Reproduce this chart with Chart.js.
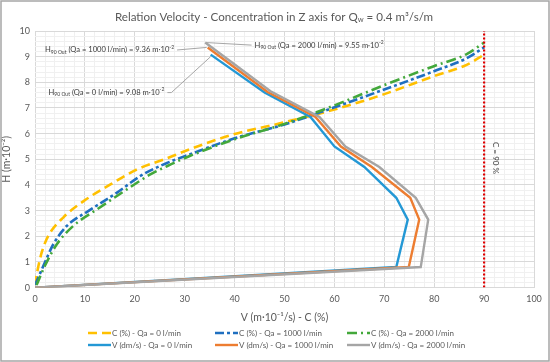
<!DOCTYPE html>
<html>
<head>
<meta charset="utf-8">
<script src="https://cdn.jsdelivr.net/npm/chart.js@4"></script>
<style>
  html, body { margin: 0; padding: 0; background: #fff; }
  #wrap { width: 550px; height: 362px; }
</style>
</head>
<body>
<div id="wrap"><canvas id="chart" width="550" height="362"></canvas></div>
<script>
// concentration curves C (%) vs height H (m·10^-2)
const cQa0_x    = [0, 0.5, 1.35, 2.7, 5.7, 9.8, 15.2, 20.5, 25.9, 31.0, 39.4, 49.5, 60.0, 69.7, 79.8, 86.5, 90];
const cQa0_h    = [0.1, 0.67, 1.38, 2.03, 2.74, 3.38, 4.03, 4.61, 5.00, 5.39, 5.95, 6.42, 6.94, 7.52, 8.23, 8.68, 9.08];
const cQa1000_x = [0, 1.7, 3.7, 6.4, 10.8, 16.5, 21.2, 26.6, 31.0, 40.0, 50.0, 59.6, 69.7, 79.8, 86.5, 90];
const cQa1000_h = [0.1, 0.86, 1.70, 2.41, 3.00, 3.71, 4.36, 4.87, 5.19, 5.82, 6.36, 7.00, 7.70, 8.42, 8.94, 9.36];
const cQa2000_x = [0.3, 2.0, 4.4, 7.7, 12.5, 18.5, 23.2, 27.3, 31.0, 40.0, 50.0, 59.6, 69.7, 79.8, 86.5, 90];
const cQa2000_h = [0.1, 0.86, 1.70, 2.41, 3.06, 3.84, 4.42, 4.81, 5.13, 5.78, 6.38, 7.07, 7.87, 8.62, 9.10, 9.55];

// velocity profiles V (dm/s) vs height
const vQa0_x    = [0, 72.4, 74.7, 72.4, 66.0, 60.0, 55.2, 46.0, 35.2];
const vQa0_h    = [0, 0.80, 2.65, 3.50, 4.70, 5.50, 6.65, 7.60, 9.08];
const vQa1000_x = [0, 74.9, 77.0, 75.2, 67.5, 61.3, 56.2, 46.6, 34.6];
const vQa1000_h = [0, 0.80, 2.65, 3.50, 4.70, 5.50, 6.65, 7.62, 9.36];
const vQa2000_x = [0, 77.3, 78.8, 76.3, 69.0, 62.2, 57.0, 47.2, 34.1];
const vQa2000_h = [0, 0.80, 2.65, 3.50, 4.70, 5.50, 6.65, 7.65, 9.55];

// C = 90 % limit
const c90_x = [90, 90];
const c90_h = [0, 10];

const seriesLabels = [
  'C (%) - Qa = 0 l/min', 'C (%) - Qa = 1000 l/min', 'C (%) - Qa = 2000 l/min',
  'V (dm/s) - Qa = 0 l/min', 'V (dm/s) - Qa = 1000 l/min', 'V (dm/s) - Qa = 2000 l/min'
];

// H90 out annotations: [Qa, value]
const h90Notes = [
  ['1000', '9.36'],
  ['0', '9.08'],
  ['2000', '9.55']
];

function pts(xs, hs) {
  return xs.map((x, i) => ({ x: x, y: hs[i] }));
}

const FONT = 'Lato, "Liberation Sans", sans-serif';
const GREY_TXT = '#595959';

function isMult(v, m) {
  const r = v / m;
  return Math.abs(r - Math.round(r)) < 1e-6;
}

// draws a run of text parts, some of them sub/superscript
function drawRich(ctx, parts, x, y) {
  let cx = x;
  parts.forEach(p => {
    ctx.font = 'normal ' + p.s + 'px ' + FONT;
    ctx.fillText(p.t, cx, y + (p.dy || 0));
    cx += ctx.measureText(p.t).width;
  });
  return cx;
}

function h90Parts(qa, val) {
  return [
    { t: 'H', s: 7.6 },
    { t: '90 Out', s: 5, dy: 2 },
    { t: ' (Qa = ' + qa + ' l/min) = ' + val + ' m\u00b710', s: 7.6 },
    { t: '-2', s: 5, dy: -3 }
  ];
}

const decorPlugin = {
  id: 'decor',
  beforeDraw(chart) {
    const ctx = chart.ctx;
    ctx.save();
    ctx.fillStyle = '#fff';
    ctx.fillRect(0, 0, chart.width, chart.height);
    ctx.restore();
  },
  afterDraw(chart) {
    const ctx = chart.ctx;
    const xs = chart.scales.x, ys = chart.scales.y;
    ctx.save();
    ctx.fillStyle = GREY_TXT;
    ctx.textBaseline = 'middle';

    // title with subscript
    const tParts = [
      { t: 'Relation Velocity - Concentration in Z axis for Q', s: 11.6 },
      { t: 'w', s: 7.5, dy: 3 },
      { t: ' = 0.4 m\u00b3/s/m', s: 11.6 }
    ];
    let w = 0;
    tParts.forEach(p => { ctx.font = 'normal ' + p.s + 'px ' + FONT; w += ctx.measureText(p.t).width; });
    drawRich(ctx, tParts, 274 - w / 2, 17);

    // H90 annotations with leader lines
    ctx.fillStyle = '#404040';
    const tops = [
      [vQa1000_x[vQa1000_x.length - 1], vQa1000_h[vQa1000_h.length - 1]],
      [vQa0_x[vQa0_x.length - 1], vQa0_h[vQa0_h.length - 1]],
      [vQa2000_x[vQa2000_x.length - 1], vQa2000_h[vQa2000_h.length - 1]]
    ];
    const textPos = [[2.0, 9.26], [2.7, 7.6], [44.0, 9.45]];
    ctx.strokeStyle = '#a6a6a6';
    ctx.lineWidth = 1;
    h90Notes.forEach((n, i) => {
      const tx = xs.getPixelForValue(textPos[i][0]);
      const ty = ys.getPixelForValue(textPos[i][1]);
      const endX = drawRich(ctx, h90Parts(n[0], n[1]), tx, ty);
      const ax = xs.getPixelForValue(tops[i][0]);
      const ay = ys.getPixelForValue(tops[i][1]);
      ctx.beginPath();
      if (i === 2) {
        ctx.moveTo(ax + 1, ay);
        ctx.lineTo(tx - 3, ty);
      } else if (i === 0) {
        ctx.moveTo(endX + 3, ty);
        ctx.lineTo(ax - 1, ay);
      } else {
        ctx.moveTo(endX + 3, ty);
        ctx.lineTo(endX + 7, ty);
        ctx.lineTo(ax, ay + 2);
      }
      ctx.stroke();
    });

    // C = 90 % label, rotated
    ctx.font = '8px ' + FONT;
    ctx.save();
    ctx.translate(xs.getPixelForValue(90) + 11, ys.getPixelForValue(5.05));
    ctx.rotate(Math.PI / 2);
    ctx.textAlign = 'center';
    ctx.fillText('C = 90 %', 0, 0);
    ctx.restore();

    // legend, 3 columns x 2 rows
    const colX = [88, 215, 347];
    const rowY = [333, 345];
    ctx.fillStyle = GREY_TXT;
    ctx.font = '8px ' + FONT;
    ctx.textAlign = 'left';
    for (let i = 0; i < seriesLabels.length; i++) {
      const ds = chart.data.datasets[i];
      const x0 = colX[i % 3], y0 = rowY[Math.floor(i / 3)];
      ctx.save();
      ctx.strokeStyle = ds.borderColor;
      ctx.lineWidth = ds.borderWidth;
      ctx.setLineDash(ds.borderDash || []);
      ctx.beginPath();
      ctx.moveTo(x0, y0);
      ctx.lineTo(x0 + 23, y0);
      ctx.stroke();
      ctx.restore();
      ctx.fillText(seriesLabels[i], x0 + 24, y0);
    }
    ctx.restore();

    // outer frame
    ctx.save();
    ctx.strokeStyle = '#a6a6a6';
    ctx.lineWidth = 1.5;
    ctx.strokeRect(1, 1, chart.width - 2, chart.height - 2);
    ctx.restore();
  }
};

const datasets = [
  { label: seriesLabels[0], data: pts(cQa0_x, cQa0_h), borderColor: '#FFC000', backgroundColor: '#FFC000',
    borderDash: [9, 5], borderWidth: 2.6, cubicInterpolationMode: 'monotone', order: 6 },
  { label: seriesLabels[1], data: pts(cQa1000_x, cQa1000_h), borderColor: '#1F6FC0', backgroundColor: '#1F6FC0',
    borderDash: [9, 3, 3, 3], borderWidth: 2.6, cubicInterpolationMode: 'monotone', order: 5 },
  { label: seriesLabels[2], data: pts(cQa2000_x, cQa2000_h), borderColor: '#43A83B', backgroundColor: '#43A83B',
    borderDash: [10, 4, 2, 4], borderWidth: 2.6, cubicInterpolationMode: 'monotone', order: 4 },
  { label: seriesLabels[3], data: pts(vQa0_x, vQa0_h), borderColor: '#2498D5', backgroundColor: '#2498D5',
    borderWidth: 2.4, order: 3 },
  { label: seriesLabels[4], data: pts(vQa1000_x, vQa1000_h), borderColor: '#ED7D31', backgroundColor: '#ED7D31',
    borderWidth: 2.4, order: 2 },
  { label: seriesLabels[5], data: pts(vQa2000_x, vQa2000_h), borderColor: '#A5A5A5', backgroundColor: '#A5A5A5',
    borderWidth: 2.4, order: 1 },
  { label: 'C90', data: pts(c90_x, c90_h), borderColor: '#E00000', backgroundColor: '#E00000',
    borderDash: [2, 2], borderWidth: 2.2, order: 0 }
];

const ctx = document.getElementById('chart').getContext('2d');
const chart = new Chart(ctx, {
  type: 'line',
  data: { datasets: datasets },
  options: {
    responsive: false,
    animation: false,
    elements: { point: { radius: 0, hoverRadius: 0 }, line: { tension: 0, fill: false } },
    layout: { padding: { left: 0, right: 16, top: 31, bottom: 38 } },
    plugins: {
      title: { display: false },
      tooltip: { enabled: false },
      legend: { display: false }
    },
    scales: {
      x: {
        type: 'linear', min: 0, max: 100,
        title: { display: true, text: 'V (m\u00b710\u207b\u00b9/s) - C (%)', color: GREY_TXT,
          font: { family: FONT, size: 10.5 }, padding: { top: 1, bottom: 0 } },
        ticks: { stepSize: 2, autoSkip: false, maxRotation: 0, color: GREY_TXT,
          font: { family: FONT, size: 9 }, padding: 6,
          callback: v => isMult(v, 10) ? String(Math.round(v)) : '' },
        grid: { drawTicks: false, color: c => isMult(c.tick.value, 10) ? '#d9d9d9' : '#f0f0f0', lineWidth: 1 },
        border: { display: false }
      },
      y: {
        type: 'linear', min: 0, max: 10,
        title: { display: true, text: 'H (m\u00b710\u207b\u00b2)', color: GREY_TXT,
          font: { family: FONT, size: 10.5 }, padding: { top: 0, bottom: 2 } },
        ticks: { stepSize: 0.2, autoSkip: false, color: GREY_TXT,
          font: { family: FONT, size: 9 }, padding: 5,
          callback: v => isMult(v, 1) ? String(Math.round(v)) : '' },
        grid: { drawTicks: false, color: c => isMult(c.tick.value, 1) ? '#d9d9d9' : '#f0f0f0', lineWidth: 1 },
        border: { display: false }
      }
    }
  },
  plugins: [decorPlugin]
});
</script>
</body>
</html>
